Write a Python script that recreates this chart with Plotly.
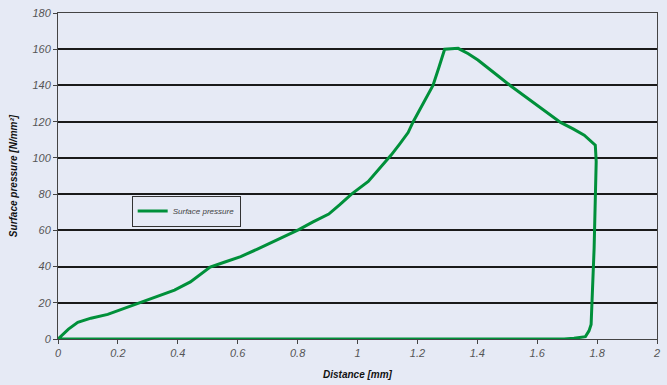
import plotly.graph_objects as go

# Surface pressure along the contact, closed loop back along the baseline
distance_mm = [0.0, 0.02, 0.035, 0.066, 0.11, 0.166, 0.22, 0.276, 0.33, 0.389, 0.442, 0.508,
               0.555, 0.61, 0.664, 0.73, 0.804, 0.85, 0.904, 0.94, 0.98, 1.036, 1.096, 1.113,
               1.14, 1.169, 1.186, 1.22, 1.252, 1.272, 1.291, 1.336, 1.37, 1.402, 1.435,
               1.475, 1.512, 1.578, 1.63, 1.678, 1.72, 1.757, 1.794, 1.797, 1.79, 1.783,
               1.78, 1.773, 1.761, 1.723, 1.69, 0.0]
pressure_n_mm2 = [0.0, 3.0, 5.5, 9.2, 11.5, 13.6, 16.8, 20.1, 23.2, 27.0, 31.5, 39.7,
                  42.4, 45.5, 49.5, 54.5, 60.4, 64.5, 69.0, 74.0, 80.0, 87.0, 98.0, 101.7,
                  107.5, 114.0, 120.0, 130.0, 140.0, 150.0, 160.0, 160.5, 157.5, 154.0, 149.5,
                  144.5, 139.7, 131.6, 125.5, 119.6, 116.0, 112.5, 107.0, 98.0, 50.0, 15.0,
                  8.0, 4.5, 1.3, 0.4, 0.0, 0.0]

x_ticks = [0, 0.2, 0.4, 0.6, 0.8, 1, 1.2, 1.4, 1.6, 1.8, 2]
y_ticks = [0, 20, 40, 60, 80, 100, 120, 140, 160, 180]

bg = "#e6eaf5"
narrow = "Liberation Sans Narrow, Arial Narrow, Liberation Sans, sans-serif"

fig = go.Figure()
fig.add_trace(go.Scatter(
    x=distance_mm, y=pressure_n_mm2, mode="lines", name="Surface pressure",
    line=dict(color="#00903a", width=3),
))

fig.update_layout(
    width=667, height=385,
    margin=dict(l=58, r=7, t=9, b=45),
    paper_bgcolor=bg, plot_bgcolor=bg,
    font=dict(family=narrow, size=11, color="#555555", style="italic"),
    showlegend=True,
    legend=dict(
        x=0.123, y=0.44, xanchor="left", yanchor="top",
        bgcolor=bg, bordercolor="#333333", borderwidth=1,
        font=dict(family=narrow, size=8, color="#444444", style="italic"),
        itemwidth=30, tracegroupgap=0,
    ),
    xaxis=dict(
        range=[0, 2], tickvals=x_ticks, ticktext=[f"{v:g}" for v in x_ticks],
        showgrid=False, zeroline=False,
        showline=True, linecolor="#444444", linewidth=1, mirror=True,
        ticks="outside", ticklen=4, tickcolor="#444444",
        title=dict(text="Distance [mm]", standoff=12,
                   font=dict(family=narrow, size=10, color="#111111", weight="bold", style="italic")),
    ),
    yaxis=dict(
        range=[0, 180], tickvals=y_ticks,
        showgrid=True, gridcolor="#1a1a1a", gridwidth=2, zeroline=False,
        showline=True, linecolor="#444444", linewidth=1, mirror=True,
        ticks="outside", ticklen=4, tickcolor="#444444",
        title=dict(text="Surface pressure [N/mm²]", standoff=12,
                   font=dict(family=narrow, size=10, color="#111111", weight="bold", style="italic")),
    ),
)

fig.write_html("out.html")
